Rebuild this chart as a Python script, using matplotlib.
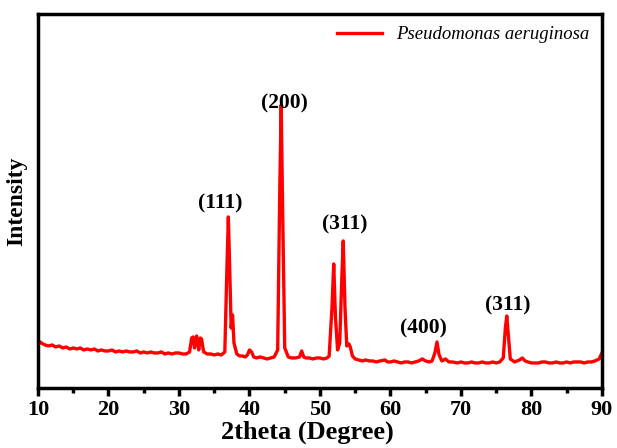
import numpy as np
import matplotlib.pyplot as plt

# XRD pattern (2theta in degrees, intensity in arb. units)
two_theta = [10.0, 10.3, 10.7, 11.0, 11.5, 12.0, 12.5, 13.0, 13.5, 14.0, 14.5, 15.0,
             15.5, 16.0, 16.5, 17.0, 17.5, 18.0, 18.5, 19.0, 19.5, 20.0, 20.5, 21.0,
             21.5, 22.0, 22.5, 23.0, 23.5, 24.0, 24.5, 25.0, 25.5, 26.0, 26.5, 27.0,
             27.5, 28.0, 28.5, 29.0, 29.5, 30.0, 30.5, 31.0, 31.5, 31.8, 32.0, 32.2,
             32.5, 32.8, 33.0, 33.2, 33.5, 34.0, 34.5, 35.0, 35.5, 36.0, 36.5, 36.8,
             37.0, 37.2, 37.4, 37.6, 37.8, 38.2, 38.6, 39.0, 39.4, 39.7, 40.0, 40.3,
             40.6, 41.0, 41.5, 42.0, 42.5, 43.0, 43.5, 44.0, 44.3, 44.5, 44.7, 45.0,
             45.5, 46.0, 46.5, 47.1, 47.4, 47.7, 48.0, 48.5, 49.0, 49.5, 50.0, 50.5,
             51.0, 51.3, 51.7, 51.95, 52.2, 52.5, 52.8, 53.1, 53.3, 53.55, 53.8, 54.1,
             54.3, 54.6, 55.0, 55.5, 56.0, 56.5, 57.0, 57.5, 58.0, 58.5, 59.2, 59.6,
             60.0, 60.5, 61.0, 61.5, 62.0, 62.5, 63.0, 63.5, 64.0, 64.5, 65.0, 65.5,
             65.9, 66.3, 66.6, 66.9, 67.3, 67.8, 68.3, 68.8, 69.5, 70.0, 70.5, 71.0,
             71.5, 72.0, 72.5, 73.0, 73.5, 74.0, 74.5, 75.0, 75.5, 76.0, 76.3, 76.5,
             76.7, 77.0, 77.6, 78.3, 78.7, 79.1, 79.5, 80.0, 80.5, 81.0, 81.5, 82.0,
             82.5, 83.0, 83.5, 84.0, 84.5, 85.0, 85.5, 86.0, 86.5, 87.0, 87.5, 88.0,
             88.5, 89.0, 89.6, 90.0]
intensity = [43, 46, 44, 43, 42, 43, 41, 42, 40, 41, 39, 40,
             39, 40, 38, 39, 38, 39, 37, 38, 37, 37, 38, 36,
             37, 36, 37, 36, 36, 37, 35, 36, 35, 36, 35, 35,
             36, 34, 35, 34, 35, 35, 34, 34, 36, 50, 51, 40,
             52, 38, 50, 49, 36, 34, 34, 33, 34, 33, 36, 120,
             171, 118, 60, 73, 45, 34, 32, 32, 31, 33, 38, 36,
             31, 30, 31, 30, 29, 30, 31, 38, 200, 283, 180, 40,
             31, 30, 30, 31, 37, 31, 30, 30, 29, 30, 30, 29,
             30, 32, 80, 124, 70, 38, 45, 110, 147, 80, 42, 44,
             41, 32, 29, 28, 27, 28, 27, 27, 26, 27, 28, 26,
             26, 27, 26, 25, 26, 26, 25, 26, 27, 29, 27, 26,
             27, 35, 46, 33, 27, 29, 26, 26, 25, 26, 25, 25,
             26, 25, 25, 26, 25, 25, 26, 25, 26, 30, 60, 72,
             55, 29, 26, 28, 30, 27, 26, 25, 25, 25, 26, 26,
             25, 25, 26, 25, 25, 26, 25, 26, 26, 26, 25, 26,
             26, 27, 29, 35]

# (hkl) labels: text, x, y (bottom of text)
peak_labels = ['(111)', '(200)', '(311)', '(400)', '(311)']
label_x = [35.9, 45.0, 53.5, 64.7, 76.7]
label_y = [174, 274, 153, 49, 72]

plt.rcParams['font.family'] = ['Liberation Serif', 'DejaVu Serif']

fig = plt.figure(figsize=(6.17, 4.48), dpi=100)
ax = fig.add_axes([0.0616, 0.134, 0.914, 0.835])

ax.plot(two_theta, intensity, color='#ff0000', lw=2.4, label='Pseudomonas aeruginosa')

for t, x, y in zip(peak_labels, label_x, label_y):
    ax.text(x, y, t, ha='center', va='bottom', fontsize=15.5, fontweight='bold')

ax.set_xlim(10, 90)
ax.set_ylim(0, 374)
ax.set_xticks(range(10, 91, 10))
ax.set_xticks(range(15, 90, 10), minor=True)
ax.set_yticks([])
ax.tick_params(axis='x', which='major', direction='out', length=6, width=2.5,
               labelsize=16, pad=3)
ax.tick_params(axis='x', which='minor', direction='out', length=3.5, width=2.5)
for lbl in ax.get_xticklabels():
    lbl.set_fontweight('bold')
for s in ax.spines.values():
    s.set_linewidth(2.5)

ax.set_xlabel('2theta (Degree)', fontsize=19, fontweight='bold', labelpad=0)
ax.xaxis.set_label_coords(0.477, -0.088)
ax.set_ylabel('Intensity', fontsize=17, fontweight='bold', labelpad=8)

leg = ax.legend(loc='upper right', frameon=False, prop={'style': 'italic', 'size': 13.5},
                handlelength=2.4, borderaxespad=0.25)

fig.savefig('out.png', dpi=100)
